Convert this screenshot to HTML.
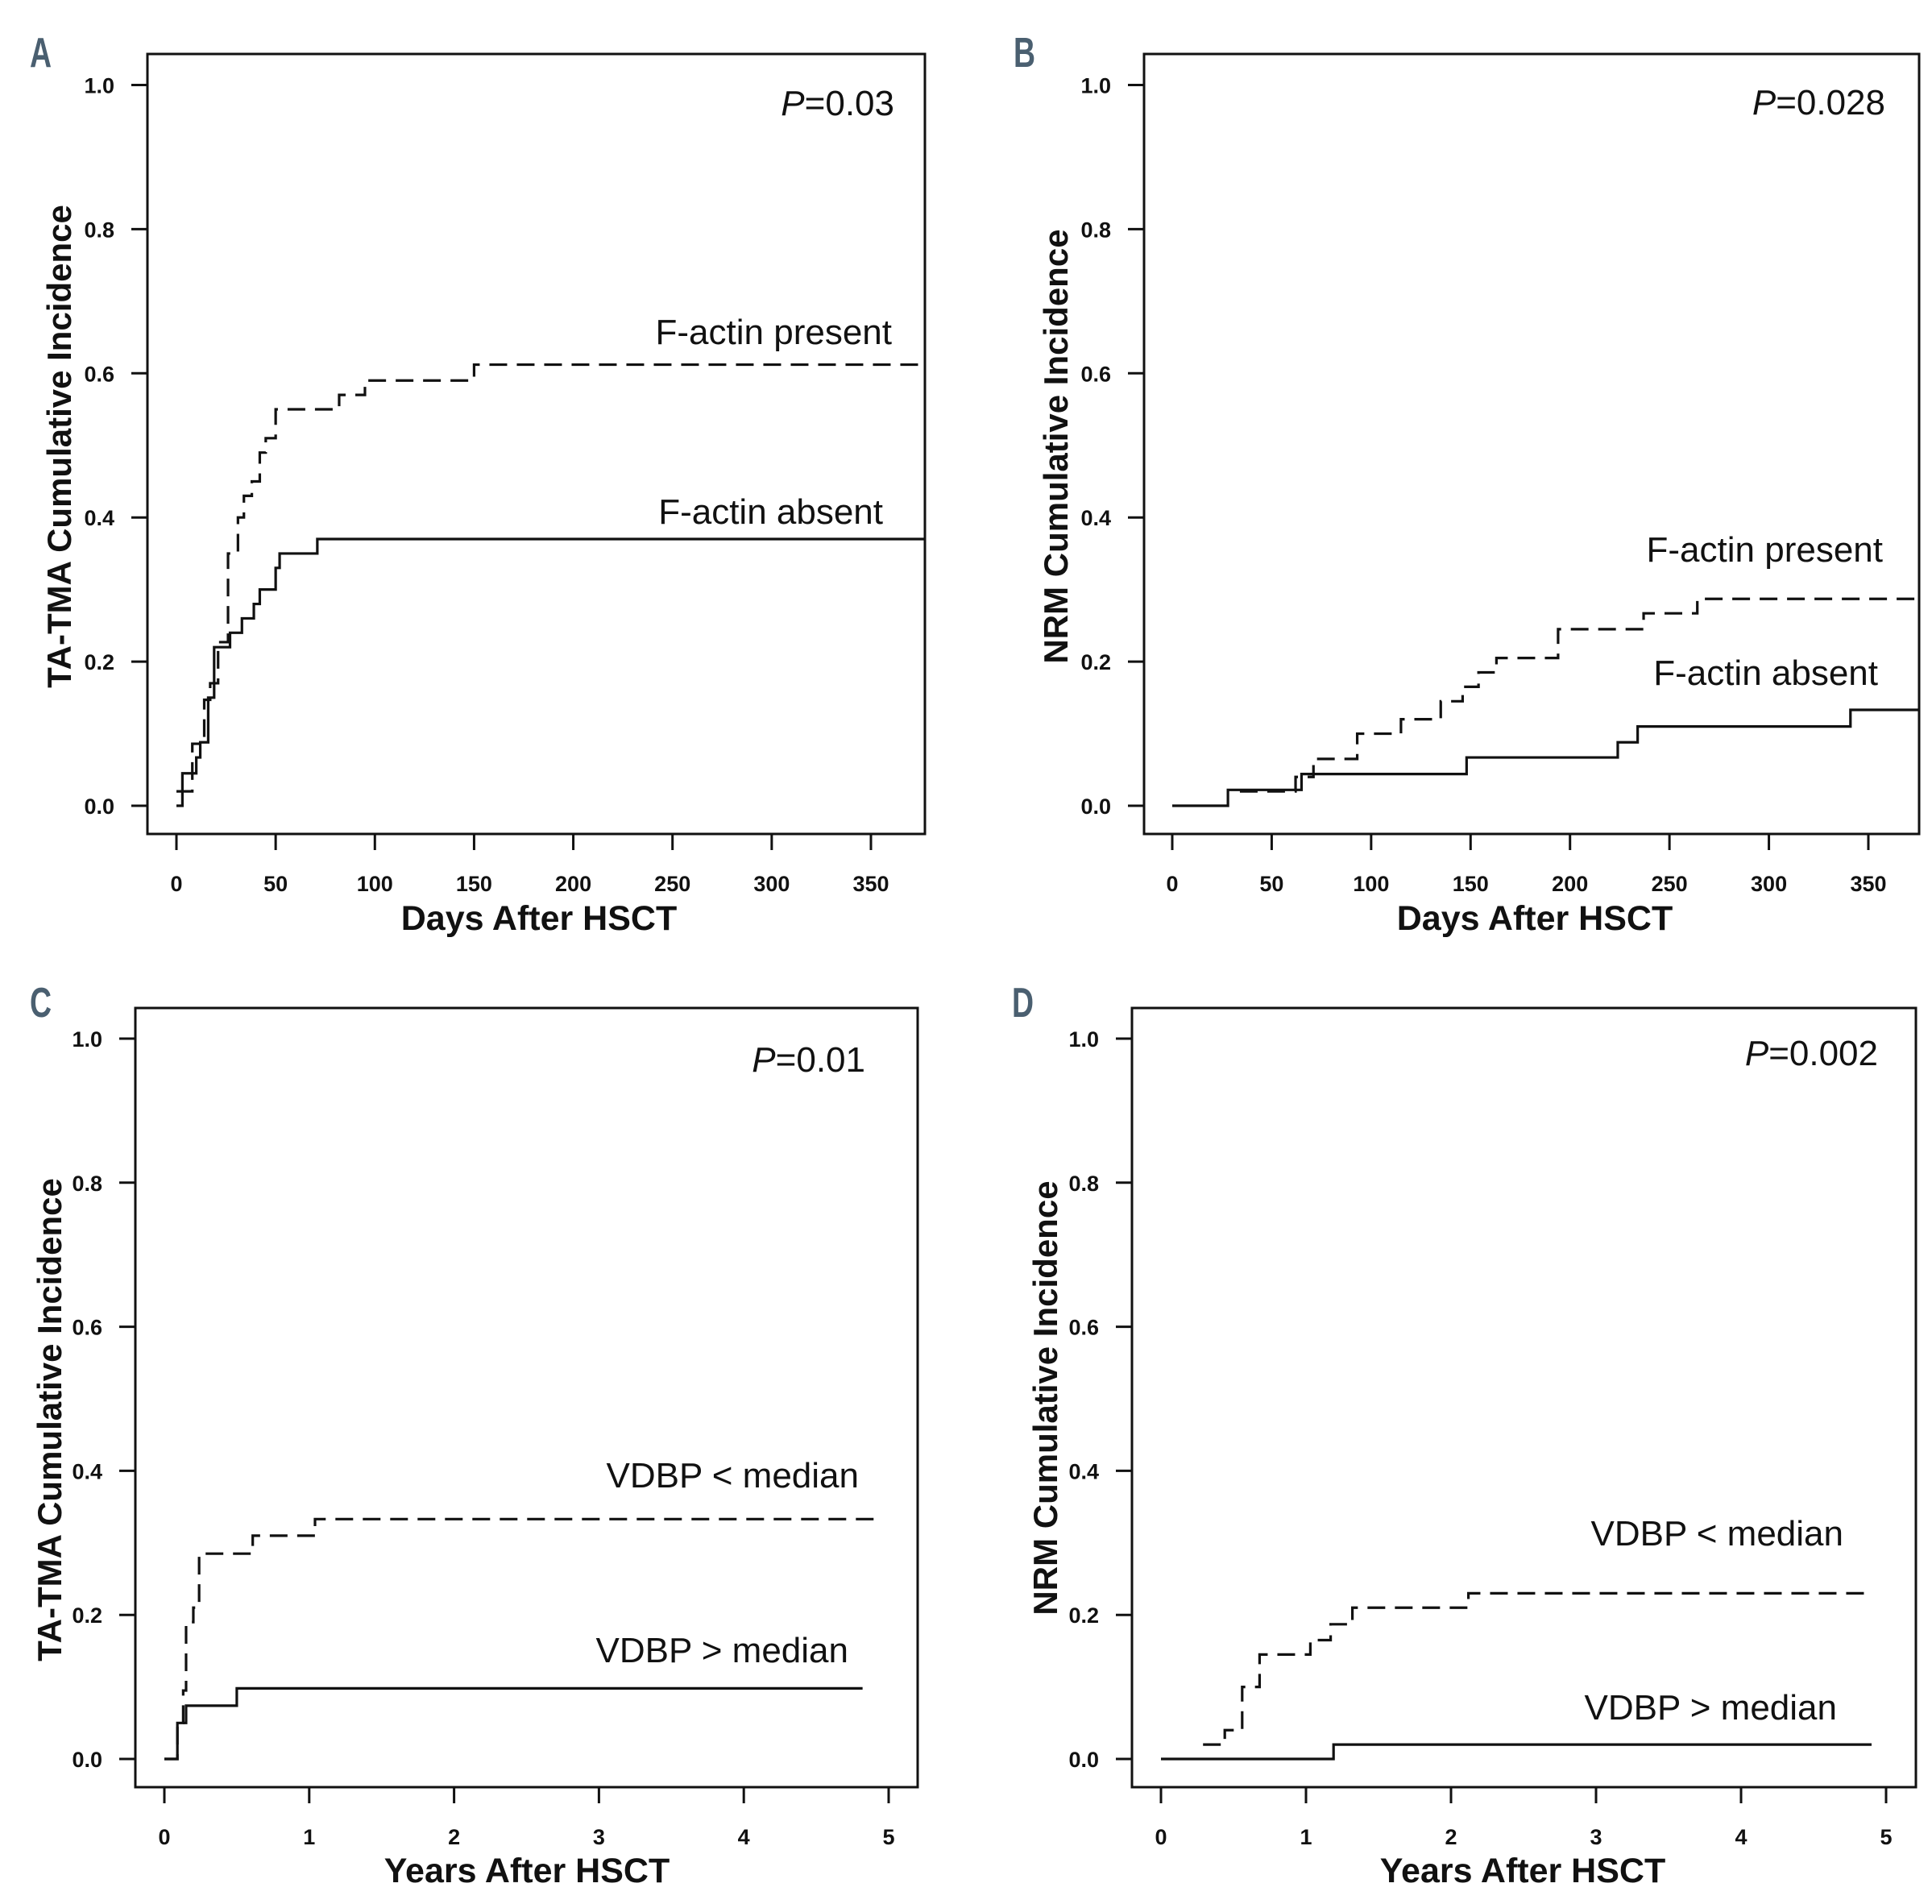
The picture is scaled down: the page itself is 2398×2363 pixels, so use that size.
<!DOCTYPE html>
<html><head><meta charset="utf-8">
<style>
html,body{margin:0;padding:0;background:#fff;}
svg{display:block;}
.tk{font-family:"Liberation Sans",sans-serif;font-weight:bold;font-size:27px;fill:#111;}
.ttl{font-family:"Liberation Sans",sans-serif;font-weight:bold;font-size:43px;fill:#111;}
.yttl{font-family:"Liberation Sans",sans-serif;font-weight:bold;font-size:42px;fill:#111;}
.ann{font-family:"Liberation Sans",sans-serif;font-size:44px;fill:#111;}
.let{font-family:"Liberation Sans",sans-serif;font-weight:bold;font-size:52px;fill:#4a5f70;}
</style></head>
<body>
<svg id="fig" width="2398" height="2363" viewBox="0 0 2398 2363" xmlns="http://www.w3.org/2000/svg"></svg>
<script>
// Panel A data (days, TA-TMA)
const aPresentT = [0, 8, 14, 17, 21, 26, 31, 34, 38, 42, 45, 50, 82, 95, 150];
const aPresentY = [0.02, 0.086, 0.147, 0.17, 0.227, 0.35, 0.40, 0.43, 0.45, 0.49, 0.51, 0.55, 0.57, 0.59, 0.612];
const aAbsentT = [0, 3, 10, 12, 16, 19, 27, 33, 39, 42, 50, 52, 71];
const aAbsentY = [0, 0.045, 0.067, 0.088, 0.15, 0.22, 0.24, 0.26, 0.28, 0.30, 0.33, 0.35, 0.37];
// Panel B data (days, NRM)
const bPresentT = [34, 62, 71, 93, 115, 135, 146, 154, 163, 194, 237, 264];
const bPresentY = [0.02, 0.04, 0.065, 0.10, 0.12, 0.145, 0.165, 0.185, 0.205, 0.245, 0.267, 0.287];
const bAbsentT = [0, 28, 65, 148, 224, 234, 341];
const bAbsentY = [0, 0.022, 0.044, 0.067, 0.088, 0.11, 0.133];
// Panel C data (years, TA-TMA)
const cLowT = [0, 0.09, 0.13, 0.15, 0.2, 0.24, 0.61, 1.04];
const cLowY = [0, 0.05, 0.095, 0.19, 0.21, 0.285, 0.31, 0.333];
const cHighT = [0, 0.09, 0.15, 0.5];
const cHighY = [0, 0.05, 0.074, 0.098];
// Panel D data (years, NRM)
const dLowT = [0.29, 0.44, 0.56, 0.68, 1.03, 1.17, 1.32, 2.12];
const dLowY = [0.02, 0.04, 0.10, 0.145, 0.165, 0.187, 0.21, 0.23];
const dHighT = [0, 1.19];
const dHighY = [0, 0.02];
// Tick labels
const dayTicks = [0, 50, 100, 150, 200, 250, 300, 350];
const yearTicks = [0, 1, 2, 3, 4, 5];
const yTicks = [0.0, 0.2, 0.4, 0.6, 0.8, 1.0];

const NS = "http://www.w3.org/2000/svg";
const svg = document.getElementById('fig');
function mk(tag, attrs, parent, text) {
  const e = document.createElementNS(NS, tag);
  for (const k in attrs) e.setAttribute(k, attrs[k]);
  if (text !== undefined) e.textContent = text;
  (parent || svg).appendChild(e);
  return e;
}

const panels = [
  {id:'a', letter:'A', lx:37, ly:83, box:[183,67,1148,1035], x0:219, x1:1081, xv0:0, xv1:350, y0:1000, y1:105.5,
   xt:dayTicks, xtitle:'Days After HSCT', ytitle:'TA-TMA Cumulative Incidence', ytx:73, yty:554, xtx:669, xty:1154,
   p:'0.03', px:1110, py:143,
   series:[{t:aPresentT,y:aPresentY,dash:true,end:380,name:'f-actin-present-curve'},{t:aAbsentT,y:aAbsentY,dash:false,end:380,name:'f-actin-absent-curve'}],
   labels:[{s:'F-actin present',x:1107,y:427},{s:'F-actin absent',x:1096,y:650}]},
  {id:'b', letter:'B', lx:1258, ly:83, box:[1420,67,2382,1035], x0:1455, x1:2319, xv0:0, xv1:350, y0:1000, y1:105.5,
   xt:dayTicks, xtitle:'Days After HSCT', ytitle:'NRM Cumulative Incidence', ytx:1310, yty:554, xtx:1905, xty:1154,
   p:'0.028', px:2340, py:142,
   series:[{t:bPresentT,y:bPresentY,dash:true,end:380,name:'f-actin-present-curve'},{t:bAbsentT,y:bAbsentY,dash:false,end:380,name:'f-actin-absent-curve'}],
   labels:[{s:'F-actin present',x:2337,y:697},{s:'F-actin absent',x:2331,y:850}]},
  {id:'c', letter:'C', lx:37, ly:1262, box:[168,1251,1139,2218], x0:204, x1:1103, xv0:0, xv1:5, y0:2183, y1:1289,
   xt:yearTicks, xtitle:'Years After HSCT', ytitle:'TA-TMA Cumulative Incidence', ytx:61, yty:1762, xtx:654, xty:2336,
   p:'0.01', px:1074, py:1330,
   series:[{t:cLowT,y:cLowY,dash:true,end:4.9,name:'vdbp-below-median-curve'},{t:cHighT,y:cHighY,dash:false,end:4.82,name:'vdbp-above-median-curve'}],
   labels:[{s:'VDBP < median',x:1066,y:1846},{s:'VDBP > median',x:1053,y:2063}]},
  {id:'d', letter:'D', lx:1256, ly:1262, box:[1405,1251,2378,2218], x0:1441, x1:2341, xv0:0, xv1:5, y0:2183, y1:1289,
   xt:yearTicks, xtitle:'Years After HSCT', ytitle:'NRM Cumulative Incidence', ytx:1297, yty:1735, xtx:1890, xty:2336,
   p:'0.002', px:2331, py:1322,
   series:[{t:dLowT,y:dLowY,dash:true,end:4.86,name:'vdbp-below-median-curve'},{t:dHighT,y:dHighY,dash:false,end:4.9,name:'vdbp-above-median-curve'}],
   labels:[{s:'VDBP < median',x:2288,y:1918},{s:'VDBP > median',x:2280,y:2134}]}
];

panels.forEach(P => {
  const g = mk('g', {});
  
  
  const sx = v => P.x0 + (v - P.xv0) / (P.xv1 - P.xv0) * (P.x1 - P.x0);
  const sy = v => P.y0 + v * (P.y1 - P.y0);
  const [L,T,R,B] = P.box;
  const lt = mk('text', {x:P.lx, y:P.ly, class:'let', transform:`translate(${P.lx},0) scale(0.72,1) translate(${-P.lx},0)`}, g, P.letter);
  
  
  const bx = mk('rect', {x:L, y:T, width:R-L, height:B-T, fill:'none', stroke:'#111', 'stroke-width':3}, g);
  
  
  const xa = mk('g', {}, g);
  
  
  mk('line', {x1:sx(P.xt[0]), x2:sx(P.xt[P.xt.length-1]), y1:B, y2:B, stroke:'#111','stroke-width':3}, xa);
  P.xt.forEach(v => {
    mk('line', {x1:sx(v), x2:sx(v), y1:B, y2:B+20, stroke:'#111','stroke-width':3}, xa);
    const t = mk('text', {x:sx(v), y:B+71, 'text-anchor':'middle', class:'tk'}, xa, String(v));
    
    
  });
  const ya = mk('g', {}, g);
  
  
  mk('line', {x1:L, x2:L, y1:sy(0), y2:sy(1), stroke:'#111','stroke-width':3}, ya);
  yTicks.forEach(v => {
    mk('line', {x1:L-20, x2:L, y1:sy(v), y2:sy(v), stroke:'#111','stroke-width':3}, ya);
    const t = mk('text', {x:L-41, y:sy(v)+10, 'text-anchor':'end', class:'tk'}, ya, v.toFixed(1));
    
    
  });
  const xt = mk('text', {x:P.xtx, y:P.xty, 'text-anchor':'middle', class:'ttl'}, g, P.xtitle);
  
  
  const yt = mk('text', {x:P.ytx, y:P.yty, 'text-anchor':'middle', class:'yttl', transform:`rotate(-90 ${P.ytx} ${P.yty})`, dy:'15'}, g, P.ytitle);
  
  
  const pv = mk('text', {x:P.px, y:P.py, 'text-anchor':'end', class:'ann'}, g);
  
  
  mk('tspan', {'font-style':'italic'}, pv, 'P');
  mk('tspan', {}, pv, '=' + P.p);
  P.series.forEach(S => {
    let d = 'M' + sx(S.t[0]) + ' ' + sy(S.y[0]);
    for (let i = 1; i < S.t.length; i++) {
      d += ' H' + sx(S.t[i]) + ' V' + sy(S.y[i]);
    }
    d += ' H' + Math.min(sx(S.end), R);
    const path = mk('path', {d:d, fill:'none', stroke:'#111', 'stroke-width':3.2, 'stroke-dasharray': S.dash ? '22 12' : 'none'}, g);
    
    
  });
  P.labels.forEach(lb => {
    const t = mk('text', {x:lb.x, y:lb.y, 'text-anchor':'end', class:'ann'}, g, lb.s);
    
    
  });
});
</script>
</body></html>
